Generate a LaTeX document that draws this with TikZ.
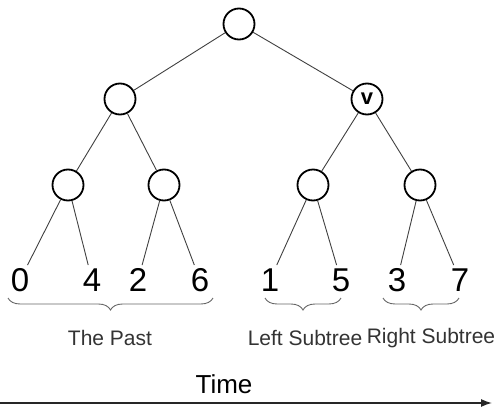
\documentclass[tikz,border=0pt]{standalone}
\usepackage{fontspec}
\setmainfont{Liberation Sans}
\usetikzlibrary{arrows.meta, positioning, decorations.pathreplacing}
\tikzset{x = 1pt, y = -1pt,
         >= {Latex[length = 11pt, width = 8pt]},
         vertex/.style = {circle, draw, line width = 1.8pt,
                          minimum size = 31pt, inner sep = 0pt},
         leaf/.style = {font = \fontsize{33}{36}\selectfont,
                        text height = 23.5pt, text depth = 0pt,
                        inner sep = 3pt},
         branch/.style = {draw = black!75, line width = 0.9pt},
         subtree/.style = {decorate, draw = black!60, line width = 0.9pt,
                           decoration = {brace, mirror, amplitude = 12pt}},
         caption/.style = {font = \fontsize{21}{24}\selectfont, text = black!80}}

\begin{document}
\begin{tikzpicture}
    \useasboundingbox (0,0) rectangle (496,410);

    % tree
    \node[vertex]  (r)   at (239,24)  {};
    \node[vertex]  (a)   at (120,99)  {};
    \node[vertex]  (v)   at (367,99)  {\fontsize{22}{24}\selectfont\bfseries v};
    \node[vertex]  (aa)  at (68,185)  {};
    \node[vertex]  (ab)  at (164,185) {};
    \node[vertex]  (va)  at (313,185) {};
    \node[vertex]  (vb)  at (420,185) {};

    % leaves
    \node[leaf]    (l0)  at (20,280)  {0};
    \node[leaf]    (l4)  at (92,280)  {4};
    \node[leaf]    (l2)  at (138,280) {2};
    \node[leaf]    (l6)  at (200,280) {6};
    \node[leaf]    (l1)  at (270,280) {1};
    \node[leaf]    (l5)  at (341,280) {5};
    \node[leaf]    (l3)  at (397,280) {3};
    \node[leaf]    (l7)  at (460,280) {7};

    \path[branch]  (r) edge (a)   (r) edge (v)
                   (a) edge (aa)  (a) edge (ab)
                   (v) edge (va)  (v) edge (vb)
                   (aa) edge (l0) (aa) edge (l4)
                   (ab) edge (l2) (ab) edge (l6)
                   (va) edge (l1) (va) edge (l5)
                   (vb) edge (l3) (vb) edge (l7);

    % braces
    \draw[subtree] (8,298)   -- (213,298);
    \draw[subtree] (265,298) -- (341,298);
    \draw[subtree] (383,298) -- (459,298);

    \node[caption] (past)  at (110,338) {The Past};
    \node[caption] (left)  at (305,338) {Left Subtree};
    \node[caption] (right) at (431,338) {Right Subtree};

    % time axis
    \coordinate (t0) at (0,403);
    \coordinate (t1) at (492,403);
    \draw[->, line width = 1.4pt, black!85] (t0) -- (t1);
    \node[font = \fontsize{26}{30}\selectfont] (time) at (224,384) {Time};
\end{tikzpicture}
\end{document}
